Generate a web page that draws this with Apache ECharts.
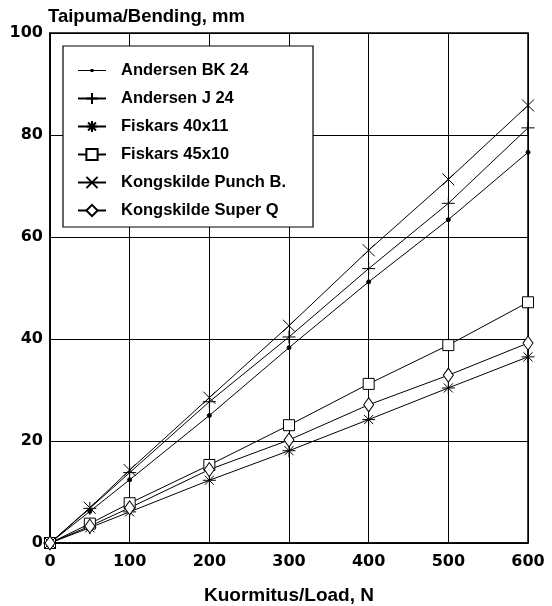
<!DOCTYPE html>
<html><head><meta charset="utf-8">
<script src="https://cdn.jsdelivr.net/npm/echarts@6/dist/echarts.min.js"></script>
<style>html,body{margin:0;padding:0;background:#fff}#c{width:552px;height:606px}</style>
</head><body><div id="c"></div>
<script>
var loads = [0, 50, 100, 200, 300, 400, 500, 600];
var andersenBK24 = [0, 6.2, 12.4, 25.0, 38.3, 51.2, 63.4, 76.6];
var andersenJ24 = [0, 6.8, 13.8, 27.7, 40.4, 53.8, 66.6, 81.4];
var fiskars40x11 = [0, 3.0, 6.1, 12.3, 18.1, 24.2, 30.4, 36.5];
var fiskars45x10 = [0, 3.8, 7.8, 15.3, 23.1, 31.2, 38.8, 47.2];
var kongPunch = [0, 6.9, 14.3, 28.5, 42.6, 57.4, 71.3, 85.8];
var kongSuperQ = [0, 3.3, 6.9, 14.4, 20.2, 27.1, 32.9, 39.2];
var seriesNames = ['Andersen BK 24', 'Andersen J 24', 'Fiskars 40x11', 'Fiskars 45x10', 'Kongskilde Punch B.', 'Kongskilde Super Q'];
var xTicks = [0, 100, 200, 300, 400, 500, 600];
var yTicks = [0, 20, 40, 60, 80, 100];

var FONT = '"Liberation Sans", Arial, sans-serif';
var NUMFONT = '"DejaVu Sans", sans-serif';
function pairs(v) { return loads.map(function (x, i) { return [x, v[i]]; }); }
var symbols = [
  {symbol: 'circle', size: 4, fill: '#000'},
  {symbol: 'path://M0,5L10,5M5,0L5,10', size: 13, fill: 'none'},
  {symbol: 'path://M0,5L10,5M5,0L5,10M1.5,1.5L8.5,8.5M1.5,8.5L8.5,1.5', size: 13, fill: 'none'},
  {symbol: 'rect', size: 11, fill: '#fff'},
  {symbol: 'path://M0,0L10,10M0,10L10,0', size: 12, fill: 'none'},
  {symbol: 'diamond', size: [10, 14], fill: '#fff'}
];
var data = [andersenBK24, andersenJ24, fiskars40x11, fiskars45x10, kongPunch, kongSuperQ];
var series = data.map(function (d, i) {
  var s = symbols[i];
  return {
    name: seriesNames[i], type: 'line', data: pairs(d),
    symbol: s.symbol, symbolSize: s.size, showAllSymbol: true,
    lineStyle: {color: '#000', width: 1},
    itemStyle: {color: s.fill, borderColor: '#000', borderWidth: 1},
    emphasis: {disabled: true}, animation: false
  };
});
var legendData = seriesNames.map(function (n, i) {
  if (i === 0) {
    return {name: n, icon: 'path://M0,0M0,6.5h28v1h-28zM12.5,5.5h3v3h-3zM28,14',
      itemStyle: {color: '#000', borderWidth: 0}};
  }
  return {name: n};
});

var chart = echarts.init(document.getElementById('c'));
chart.setOption({
  backgroundColor: '#fff',
  animation: false,
  title: {text: 'Taipuma/Bending, mm', left: 48, top: 7, padding: 0,
    textStyle: {fontFamily: FONT, fontSize: 18.5, fontWeight: 'bold', color: '#000'}},
  grid: {left: 50, right: 24, top: 33, bottom: 63, show: true, borderColor: '#000', borderWidth: 1.5,
    outerBoundsMode: 'none', containLabel: false},
  legend: {
    orient: 'vertical', left: 63, top: 46,
    data: legendData,
    itemWidth: 28, itemHeight: 14, itemGap: 11,
    padding: [16, 27, 8, 14],
    backgroundColor: '#fff', borderColor: '#000', borderWidth: 1.2,
    textStyle: {fontFamily: FONT, fontSize: 16.5, fontWeight: 'bold', color: '#000', lineHeight: 14, padding: [0, 0, 0, 10]},
    inactiveColor: '#000'
  },
  xAxis: {
    type: 'value', min: xTicks[0], max: xTicks[xTicks.length - 1], interval: 100,
    name: 'Kuormitus/Load, N', nameLocation: 'middle', nameGap: 43,
    nameTextStyle: {fontFamily: FONT, fontSize: 19, fontWeight: 'bold', color: '#000'},
    axisLine: {show: true, lineStyle: {color: '#000', width: 1.5}},
    axisTick: {show: false},
    axisLabel: {fontFamily: NUMFONT, fontSize: 16, fontWeight: 'bold', color: '#000', margin: 11},
    splitLine: {show: true, lineStyle: {color: '#000', width: 1}}
  },
  yAxis: {
    type: 'value', min: yTicks[0], max: yTicks[yTicks.length - 1], interval: 20,
    axisLine: {show: true, lineStyle: {color: '#000', width: 1.5}},
    axisTick: {show: false},
    axisLabel: {fontFamily: NUMFONT, fontSize: 16, fontWeight: 'bold', color: '#000', margin: 7},
    splitLine: {show: true, lineStyle: {color: '#000', width: 1}}
  },
  series: series
});
</script></body></html>
